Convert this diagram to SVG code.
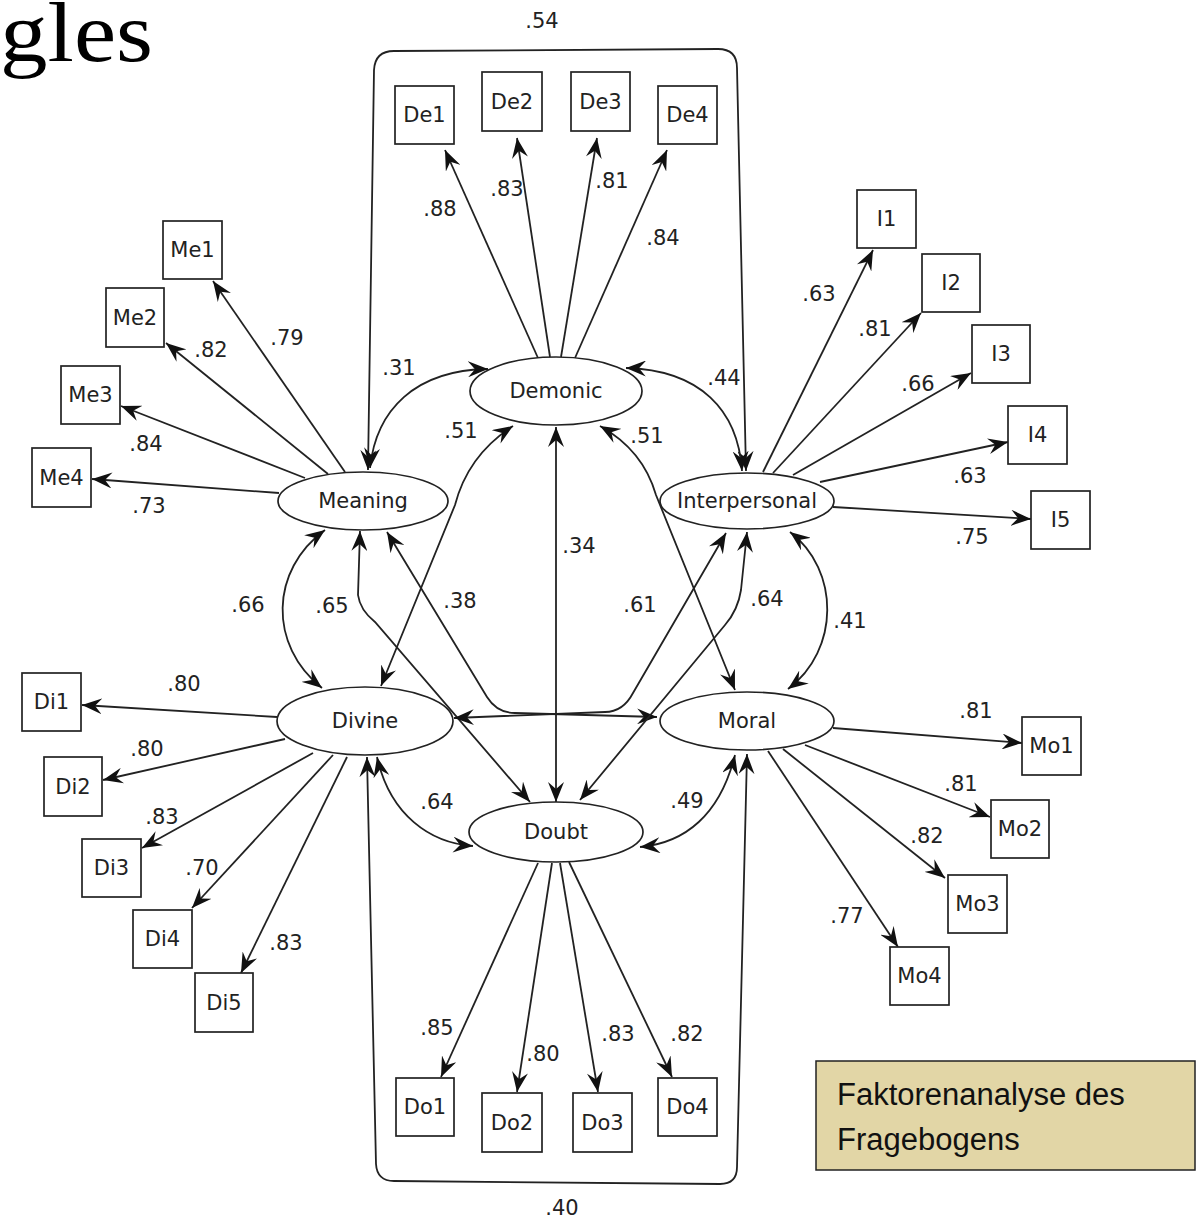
<svg xmlns="http://www.w3.org/2000/svg" width="1201" height="1219" viewBox="0 0 1201 1219">
<style>
.c{fill:none;stroke:#222;stroke-width:1.8;marker-end:url(#ah)}
.b{marker-start:url(#ah)}
.lat{fill:#fff;stroke:#222;stroke-width:1.7}
.obs{fill:#fff;stroke:#222;stroke-width:1.7}
.t{font-family:"DejaVu Sans",Verdana,sans-serif;font-size:21px;fill:#222;text-anchor:middle}
.n{font-family:"DejaVu Sans",Verdana,sans-serif;font-size:21px;fill:#222;text-anchor:middle;dominant-baseline:central}
</style>
<defs>
<marker id="ah" viewBox="0 0 20 16" refX="20" refY="8" markerWidth="20" markerHeight="16" markerUnits="userSpaceOnUse" orient="auto-start-reverse">
<path d="M0,0 L20,8 L0,16 L7,8 z" fill="#111"/>
</marker>
</defs>
<rect width="1201" height="1219" fill="#fff"/>
<text x="0" y="61" font-family="'Liberation Serif',serif" font-size="84" textLength="153" lengthAdjust="spacingAndGlyphs" fill="#000">gles</text>

<g id="connectors">
<path class="c" d="M538 358 L445 150"/>
<path class="c" d="M550 357 L517 138"/>
<path class="c" d="M561 357 L597 138"/>
<path class="c" d="M575 358 L667 150"/>
<path class="c" d="M345 472 L213 281"/>
<path class="c" d="M328 474 L166 343"/>
<path class="c" d="M305 478 L121 406"/>
<path class="c" d="M279 493 L92 479"/>
<path class="c" d="M763 472 L873 250"/>
<path class="c" d="M773 473 L921 313"/>
<path class="c" d="M793 475 L971 373"/>
<path class="c" d="M820 482 L1008 442"/>
<path class="c" d="M833 507 L1031 519"/>
<path class="c" d="M277 717 L82 705"/>
<path class="c" d="M285 739 L103 780"/>
<path class="c" d="M313 753 L142 848"/>
<path class="c" d="M333 755 L192 908"/>
<path class="c" d="M347 757 L241 973"/>
<path class="c" d="M833 728 L1022 743"/>
<path class="c" d="M805 745 L990 817"/>
<path class="c" d="M783 749 L945 878"/>
<path class="c" d="M768 751 L898 947"/>
<path class="c" d="M538 863 L441 1077"/>
<path class="c" d="M552 863 L517 1092"/>
<path class="c" d="M560 863 L598 1092"/>
<path class="c" d="M569 862 L672 1077"/>
<path class="c b" d="M368 470 L374 70 Q375 51 394 51 L718 49 Q737 49 737 68 L746 471"/>
<path class="c b" d="M367 757 L376 1164 Q377 1181 394 1181 L720 1184 Q737 1184 737 1167 L747 754"/>
<path class="c b" d="M370 468 C376 410 415 370 488 369"/>
<path class="c b" d="M626 368 C700 370 738 410 742 471"/>
<path class="c b" d="M513 426 Q468 455 455 505 L381 686"/>
<path class="c b" d="M600 426 Q643 450 656 495 L735 690"/>
<path class="c b" d="M556 427 L556 802"/>
<path class="c b" d="M325 530 C270 570 268 645 322 688"/>
<path class="c b" d="M360 531 L358 595 Q360 610 375 622 L530 802"/>
<path class="c b" d="M387 532 L487 697 Q497 713 515 713 L657 717"/>
<path class="c b" d="M726 533 L633 693 Q623 712 605 712 L454 718"/>
<path class="c b" d="M747 532 L741 590 Q738 610 725 625 L580 800"/>
<path class="c b" d="M790 532 C840 570 840 650 788 689"/>
<path class="c b" d="M377 757 C390 815 430 843 473 846"/>
<path class="c b" d="M735 755 C720 815 685 843 640 847"/>
</g>

<g id="labels">
<text class="t" x="542" y="28">.54</text>
<text class="t" x="440" y="216">.88</text>
<text class="t" x="507" y="196">.83</text>
<text class="t" x="612" y="188">.81</text>
<text class="t" x="663" y="245">.84</text>
<text class="t" x="287" y="345">.79</text>
<text class="t" x="211" y="357">.82</text>
<text class="t" x="146" y="451">.84</text>
<text class="t" x="149" y="513">.73</text>
<text class="t" x="399" y="375">.31</text>
<text class="t" x="724" y="385">.44</text>
<text class="t" x="461" y="438">.51</text>
<text class="t" x="647" y="443">.51</text>
<text class="t" x="819" y="301">.63</text>
<text class="t" x="875" y="336">.81</text>
<text class="t" x="918" y="391">.66</text>
<text class="t" x="970" y="483">.63</text>
<text class="t" x="972" y="544">.75</text>
<text class="t" x="579" y="553">.34</text>
<text class="t" x="248" y="612">.66</text>
<text class="t" x="332" y="613">.65</text>
<text class="t" x="460" y="608">.38</text>
<text class="t" x="640" y="612">.61</text>
<text class="t" x="767" y="606">.64</text>
<text class="t" x="850" y="628">.41</text>
<text class="t" x="184" y="691">.80</text>
<text class="t" x="147" y="756">.80</text>
<text class="t" x="162" y="824">.83</text>
<text class="t" x="202" y="875">.70</text>
<text class="t" x="286" y="950">.83</text>
<text class="t" x="437" y="809">.64</text>
<text class="t" x="687" y="808">.49</text>
<text class="t" x="976" y="718">.81</text>
<text class="t" x="961" y="791">.81</text>
<text class="t" x="927" y="843">.82</text>
<text class="t" x="847" y="923">.77</text>
<text class="t" x="437" y="1035">.85</text>
<text class="t" x="543" y="1061">.80</text>
<text class="t" x="618" y="1041">.83</text>
<text class="t" x="687" y="1041">.82</text>
<text class="t" x="562" y="1215">.40</text>
</g>

<g id="Demonic"><ellipse class="lat" cx="556" cy="391" rx="86" ry="34"/><text class="n" x="556" y="391">Demonic</text></g>
<g id="Meaning"><ellipse class="lat" cx="363" cy="501" rx="85" ry="29"/><text class="n" x="363" y="501">Meaning</text></g>
<g id="Interpersonal"><ellipse class="lat" cx="747" cy="501" rx="87" ry="28"/><text class="n" x="747" y="501">Interpersonal</text></g>
<g id="Divine"><ellipse class="lat" cx="365" cy="721" rx="88" ry="34"/><text class="n" x="365" y="721">Divine</text></g>
<g id="Moral"><ellipse class="lat" cx="747" cy="721" rx="87" ry="29"/><text class="n" x="747" y="721">Moral</text></g>
<g id="Doubt"><ellipse class="lat" cx="556" cy="832" rx="87" ry="30"/><text class="n" x="556" y="832">Doubt</text></g>

<g id="De1"><rect class="obs" x="395" y="86" width="59" height="58"/><text class="n" x="424.5" y="115">De1</text></g>
<g id="De2"><rect class="obs" x="482" y="72" width="60" height="59"/><text class="n" x="512" y="101.5">De2</text></g>
<g id="De3"><rect class="obs" x="571" y="72" width="59" height="59"/><text class="n" x="600.5" y="101.5">De3</text></g>
<g id="De4"><rect class="obs" x="658" y="86" width="59" height="58"/><text class="n" x="687.5" y="115">De4</text></g>

<g id="Me1"><rect class="obs" x="163" y="221" width="59" height="58"/><text class="n" x="192.5" y="250">Me1</text></g>
<g id="Me2"><rect class="obs" x="106" y="288" width="58" height="59"/><text class="n" x="135" y="317.5">Me2</text></g>
<g id="Me3"><rect class="obs" x="61" y="366" width="59" height="58"/><text class="n" x="90.5" y="395">Me3</text></g>
<g id="Me4"><rect class="obs" x="32" y="448" width="59" height="59"/><text class="n" x="61.5" y="477.5">Me4</text></g>

<g id="I1"><rect class="obs" x="857" y="190" width="59" height="58"/><text class="n" x="886.5" y="219">I1</text></g>
<g id="I2"><rect class="obs" x="922" y="254" width="58" height="58"/><text class="n" x="951" y="283">I2</text></g>
<g id="I3"><rect class="obs" x="972" y="325" width="58" height="58"/><text class="n" x="1001" y="354">I3</text></g>
<g id="I4"><rect class="obs" x="1008" y="406" width="59" height="58"/><text class="n" x="1037.5" y="435">I4</text></g>
<g id="I5"><rect class="obs" x="1031" y="491" width="59" height="58"/><text class="n" x="1060.5" y="520">I5</text></g>

<g id="Di1"><rect class="obs" x="22" y="673" width="59" height="58"/><text class="n" x="51.5" y="702">Di1</text></g>
<g id="Di2"><rect class="obs" x="44" y="757" width="58" height="59"/><text class="n" x="73" y="786.5">Di2</text></g>
<g id="Di3"><rect class="obs" x="82" y="839" width="59" height="58"/><text class="n" x="111.5" y="868">Di3</text></g>
<g id="Di4"><rect class="obs" x="133" y="910" width="59" height="58"/><text class="n" x="162.5" y="939">Di4</text></g>
<g id="Di5"><rect class="obs" x="195" y="973" width="58" height="59"/><text class="n" x="224" y="1002.5">Di5</text></g>

<g id="Mo1"><rect class="obs" x="1022" y="717" width="59" height="58"/><text class="n" x="1051.5" y="746">Mo1</text></g>
<g id="Mo2"><rect class="obs" x="991" y="800" width="58" height="58"/><text class="n" x="1020" y="829">Mo2</text></g>
<g id="Mo3"><rect class="obs" x="948" y="875" width="59" height="58"/><text class="n" x="977.5" y="904">Mo3</text></g>
<g id="Mo4"><rect class="obs" x="890" y="947" width="59" height="58"/><text class="n" x="919.5" y="976">Mo4</text></g>

<g id="Do1"><rect class="obs" x="396" y="1078" width="58" height="58"/><text class="n" x="425" y="1107">Do1</text></g>
<g id="Do2"><rect class="obs" x="482" y="1093" width="60" height="59"/><text class="n" x="512" y="1122.5">Do2</text></g>
<g id="Do3"><rect class="obs" x="573" y="1093" width="59" height="59"/><text class="n" x="602.5" y="1122.5">Do3</text></g>
<g id="Do4"><rect class="obs" x="658" y="1078" width="59" height="58"/><text class="n" x="687.5" y="1107">Do4</text></g>

<g id="legend">
<rect x="816" y="1061" width="379" height="109" fill="#e2d6a6" stroke="#222" stroke-width="1.5"/>
<text x="837" y="1105" font-family="'Liberation Sans',Arial,sans-serif" font-size="31" fill="#111">Faktorenanalyse des</text>
<text x="837" y="1150" font-family="'Liberation Sans',Arial,sans-serif" font-size="31" fill="#111">Fragebogens</text>
</g>
</svg>
